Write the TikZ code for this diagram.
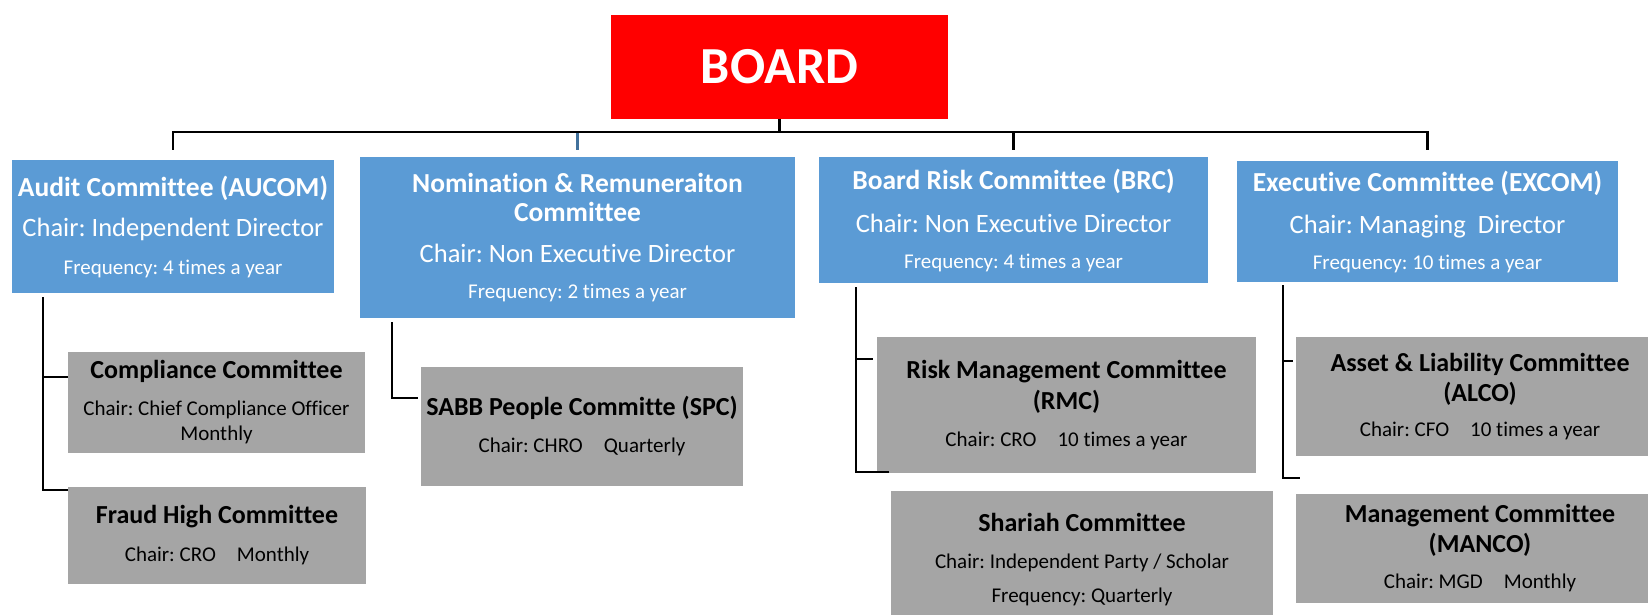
\documentclass[tikz,border=0pt]{standalone}
\usepackage{fontspec}
\setmainfont{Carlito}[Ligatures=NoCommon]
\frenchspacing
\definecolor{boxblue}{HTML}{5B9BD5}
\definecolor{boxgray}{HTML}{A5A5A5}
\definecolor{tickblue}{HTML}{41719C}
\newcommand{\chairfont}{\mdseries\fontsize{26.5}{40}\selectfont}
\newcommand{\freqfont}{\mdseries\fontsize{21}{40}\selectfont}
\newcommand{\notefont}{\mdseries\fontsize{21}{37}\selectfont}

\begin{document}
\begin{tikzpicture}[x=1pt,y=-1pt]
 \tikzset{
  boardbox/.style={fill=red,text=white,inner sep=0pt,font=\bfseries\fontsize{52}{60}\selectfont},
  bluebox/.style={fill=boxblue,text=white,align=center,inner sep=0pt,font=\bfseries\fontsize{27.5}{40}\selectfont},
  graybox/.style={fill=boxgray,text=black,align=center,inner sep=0pt,font=\bfseries\fontsize{26}{37}\selectfont},
  conn/.style={draw=black,line width=2.5pt},
  thinconn/.style={draw=black,line width=1.8pt}
 }
 \useasboundingbox (0,0) rectangle (1648,615);

 \node[boardbox,minimum width=337pt,minimum height=104pt] (board) at (779.5,67) {BOARD};

 \node[bluebox,minimum width=322pt,minimum height=133pt] (aucom) at (173,226.5)
  {Audit Committee (AUCOM)\\{\chairfont Chair: Independent Director}\\[-2pt]{\freqfont Frequency: 4 times a year}};
 \node[bluebox,minimum width=435pt,minimum height=161pt] (nrc) at (577.5,237.5)
  {Nomination \& Remuneraiton\\[-11pt]Committee\\[1pt]{\chairfont Chair: Non Executive Director}\\[-4pt]{\freqfont Frequency: 2 times a year}};
 \node[bluebox,minimum width=389pt,minimum height=126pt] (brc) at (1013.5,220)
  {Board Risk Committee (BRC)\\[3pt]{\chairfont Chair: Non Executive Director}\\[-4pt]{\freqfont Frequency: 4 times a year}};
 \node[bluebox,minimum width=381pt,minimum height=121pt] (excom) at (1427.5,221.5)
  {Executive Committee (EXCOM)\\[2pt]{\chairfont Chair: Managing\ \ Director}\\[-4pt]{\freqfont Frequency: 10 times a year}};

 \node[graybox,minimum width=297pt,minimum height=101pt] (compliance) at (216.5,402.5)
  {Compliance Committee\\{\notefont Chair: Chief Compliance Officer}\\[-12pt]{\notefont Monthly}};
 \node[graybox,minimum width=298pt,minimum height=97pt] (fraud) at (217,535.5)
  {Fraud High Committee\\[1pt]{\notefont Chair: CRO\hspace{1em}Monthly}};
 \node[graybox,minimum width=322pt,minimum height=119pt] (spc) at (582,426.5)
  {SABB People Committe (SPC)\\{\notefont Chair: CHRO\hspace{1em}Quarterly}};
 \node[graybox,minimum width=379pt,minimum height=136pt] (rmc) at (1066.5,405)
  {Risk Management Committee\\[-6pt](RMC)\\{\notefont Chair: CRO\hspace{1em}10 times a year}};
 \node[graybox,minimum width=382pt,minimum height=137pt] (shariah) at (1082,559.5)
  {Shariah Committee\\{\notefont Chair: Independent Party / Scholar}\\[-3pt]{\notefont Frequency: Quarterly}};
 \node[graybox,minimum width=368pt,minimum height=119pt] (alco) at (1480,396.5)
  {Asset \& Liability Committee\\[-7pt](ALCO)\\[-2pt]{\notefont Chair: CFO\hspace{1em}10 times a year}};
 \node[graybox,minimum width=368pt,minimum height=109pt] (manco) at (1480,548.5)
  {Management Committee\\[-7pt](MANCO)\\[-1pt]{\notefont Chair: MGD\hspace{1em}Monthly}};

 \draw[conn,draw=tickblue,shorten >=7pt] (board.south) -- ++(0,13) -| (nrc.north);
 \draw[conn,shorten >=10pt] (board.south) -- ++(0,13) -| (aucom.north);
 \draw[conn,shorten >=7pt] (board.south) -- ++(0,13) -| (brc.north);
 \draw[conn,shorten >=11pt] (board.south) -- ++(0,13) -| (excom.north);

 \coordinate (aucomdrop) at ([xshift=31pt,yshift=-4pt]aucom.south west);
 \draw[conn] (aucomdrop) |- ([yshift=-25pt]compliance.north west);
 \draw[conn] (aucomdrop) |- ([yshift=-3pt]fraud.north west);

 \draw[conn] ([xshift=32pt,yshift=-4pt]nrc.south west) |- ([xshift=-3pt,yshift=-31pt]spc.north west);

 \coordinate (brcdrop) at ([xshift=37pt,yshift=-4pt]brc.south west);
 \draw[thinconn] (brcdrop) |- ([xshift=-4pt,yshift=-22pt]rmc.north west);
 \draw[thinconn] (brcdrop) |- ([xshift=-2pt,yshift=19pt]shariah.north west);

 \coordinate (excomdrop) at ([xshift=46pt,yshift=-3pt]excom.south west);
 \draw[thinconn] (excomdrop) |- ([xshift=-3pt,yshift=-24pt]alco.north west);
 \draw[thinconn] (excomdrop) |- ([xshift=4pt,yshift=16pt]manco.north west);
\end{tikzpicture}
\end{document}
